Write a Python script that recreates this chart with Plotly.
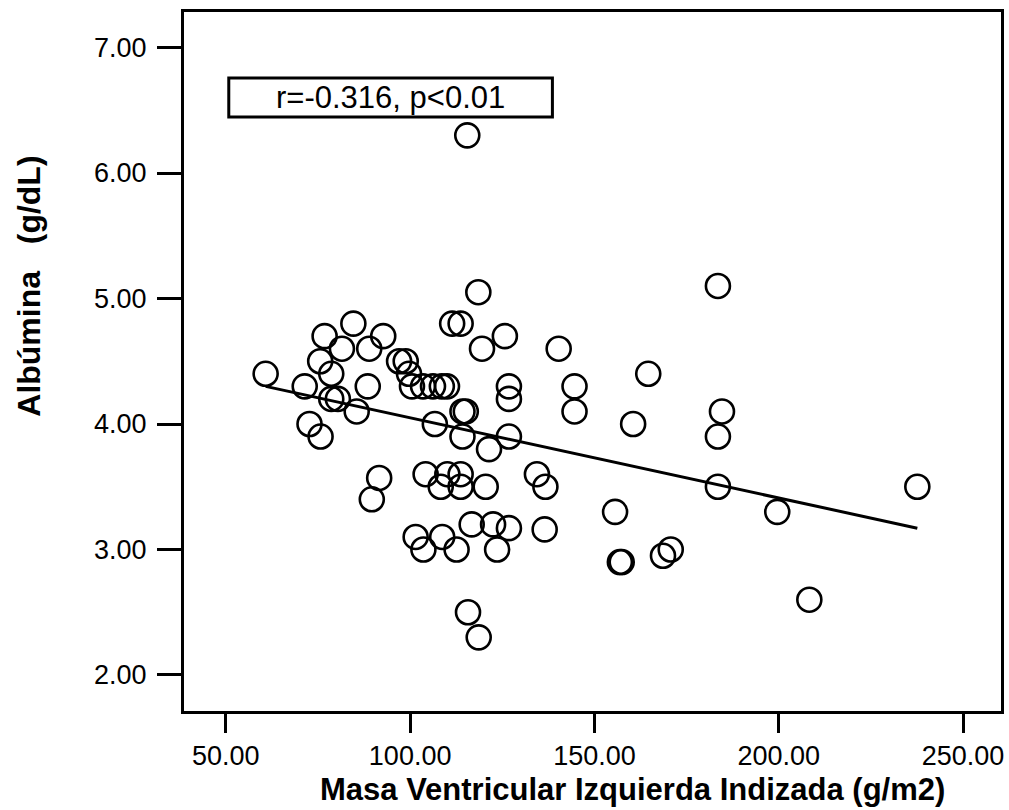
import plotly.graph_objects as go

# Data
mvi = [60.8, 76.8, 84.6, 92.7, 81.5, 88.9, 75.6, 78.6, 71.4, 88.5,
       78.6, 80.4, 85.5, 72.7, 75.7, 97.0, 98.8, 99.7, 100.5, 103.5,
       106.2, 108.6, 110.0, 106.7, 114.2, 115.1, 114.2, 121.4, 126.8, 126.8,
       126.8, 119.5, 125.7, 111.4, 113.7, 118.5, 115.5, 140.3, 144.6, 144.6,
       164.6, 160.5, 183.5, 184.6, 183.5, 183.5, 91.6, 89.6, 104.2, 110.1,
       113.7, 108.3, 113.7, 120.5, 134.4, 136.7, 101.5, 108.7, 103.6, 112.6,
       116.7, 122.5, 126.8, 123.6, 136.5, 115.7, 118.6, 199.6, 155.6, 156.9,
       157.4, 168.6, 170.7, 208.3, 237.6]
albumina = [4.40, 4.70, 4.80, 4.70, 4.60, 4.60, 4.50, 4.40, 4.30, 4.30,
            4.20, 4.20, 4.10, 4.00, 3.90, 4.50, 4.50, 4.40, 4.30, 4.30,
            4.30, 4.30, 4.30, 4.00, 4.10, 4.10, 3.90, 3.80, 3.90, 4.30,
            4.20, 4.60, 4.70, 4.80, 4.80, 5.05, 6.30, 4.60, 4.30, 4.10,
            4.40, 4.00, 5.10, 4.10, 3.90, 3.50, 3.57, 3.40, 3.60, 3.60,
            3.60, 3.50, 3.50, 3.50, 3.60, 3.50, 3.10, 3.10, 3.00, 3.00,
            3.20, 3.20, 3.17, 3.00, 3.16, 2.50, 2.30, 3.30, 3.30, 2.90,
            2.90, 2.95, 3.00, 2.60, 3.50]

fit_x = [60.8, 237.6]
fit_y = [4.30, 3.17]

x_ticks = [50, 100, 150, 200, 250]
y_ticks = [2, 3, 4, 5, 6, 7]

stat_text = "r=-0.316, p&lt;0.01"
x_title = "Masa Ventricular Izquierda Indizada (g/m2)"
y_title = "Albúmina   (g/dL)"

FONT = "Liberation Sans, Arial, sans-serif"

fig = go.Figure()
fig.add_trace(go.Scatter(
    x=mvi, y=albumina, mode="markers",
    marker=dict(symbol="circle-open", size=24, color="black",
                line=dict(color="black", width=2.6)),
    showlegend=False, hoverinfo="x+y"))
fig.add_trace(go.Scatter(
    x=fit_x, y=fit_y, mode="lines",
    line=dict(color="black", width=3), showlegend=False))

axis_common = dict(showline=True, linecolor="black", linewidth=3, mirror=True,
                   ticks="outside", tickcolor="black", tickwidth=3,
                   showgrid=False, zeroline=False,
                   tickfont=dict(family=FONT, size=27, color="black"))

fig.update_layout(
    width=1009, height=810,
    margin=dict(l=184, r=5, t=12, b=99),
    paper_bgcolor="white", plot_bgcolor="white",
    xaxis=dict(range=[38.65, 260.3], tickvals=x_ticks,
               ticktext=[f"{v:.2f}" for v in x_ticks], ticklen=19,
               **axis_common),
    yaxis=dict(range=[1.7131, 7.2829], tickvals=y_ticks,
               ticktext=[f"{v:.2f}" for v in y_ticks], ticklen=24,
               ticklabelstandoff=5,
               **axis_common),
    shapes=[dict(type="rect", xref="x", yref="y",
                 x0=50.8, x1=138.6, y0=6.446, y1=6.757,
                 line=dict(color="black", width=3), fillcolor="white")],
    annotations=[
        dict(text=stat_text, xref="x", yref="y", x=94.7, y=6.60,
             showarrow=False, font=dict(family=FONT, size=31, color="black"),
             xanchor="center", yanchor="middle"),
        dict(text=f"<b>{x_title}</b>", xref="paper", yref="paper",
             x=0.549, y=-0.112, showarrow=False,
             font=dict(family=FONT, size=31, color="black"),
             xanchor="center", yanchor="middle"),
        dict(text=f"<b>{y_title}</b>", xref="paper", yref="y",
             x=-0.19, y=5.10, showarrow=False, textangle=-90,
             font=dict(family=FONT, size=32, color="black"),
             xanchor="center", yanchor="middle"),
    ],
)

fig.write_html("out.html")
